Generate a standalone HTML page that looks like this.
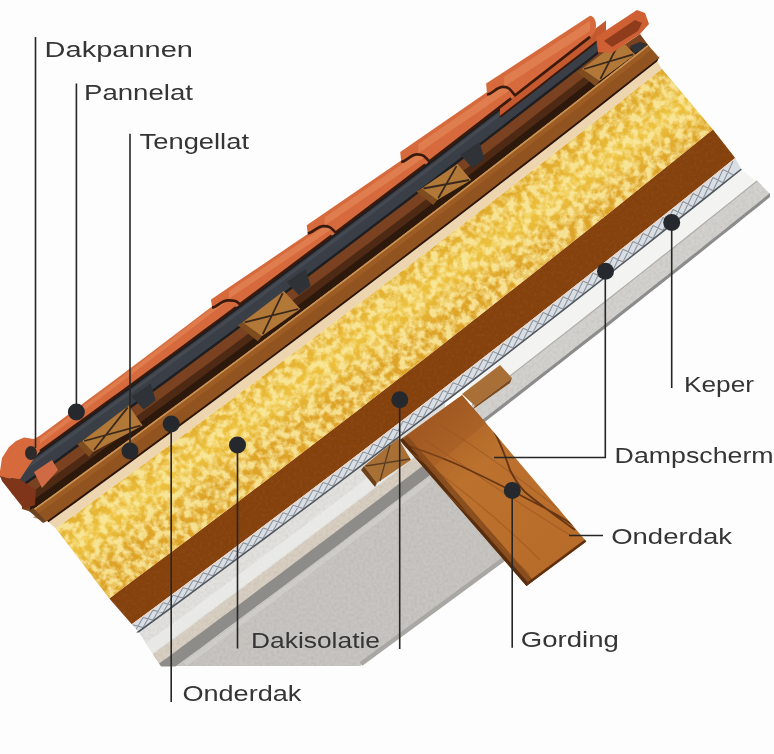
<!DOCTYPE html>
<html><head><meta charset="utf-8"><style>
html,body{margin:0;padding:0;background:#fdfdfd;}
svg{display:block;}
text{font-family:"Liberation Sans",sans-serif;font-size:22px;fill:#353535;}
.tx{will-change:transform;}
</style></head><body>
<svg width="774" height="754" viewBox="0 0 774 754">
<defs>
<filter id="speck" x="0" y="0" width="100%" height="100%" filterUnits="userSpaceOnUse">
 <feTurbulence type="fractalNoise" baseFrequency="0.13" numOctaves="3" seed="3" result="n"/>
 <feColorMatrix in="n" type="matrix" values="0 0 0 0 0  0 0 0 0 0  0 0 0 0 0  0 0 0 -3 2.0" result="a"/>
 <feComposite in="SourceGraphic" in2="a" operator="in"/>
</filter>
<filter id="grain" x="0" y="0" width="100%" height="100%" filterUnits="userSpaceOnUse">
 <feTurbulence type="fractalNoise" baseFrequency="0.35" numOctaves="1" seed="7" result="n"/>
 <feColorMatrix in="n" type="matrix" values="0 0 0 0 0  0 0 0 0 0  0 0 0 0 0  0 0 0 0.22 -0.08" result="a"/>
 <feComposite in="a" in2="SourceGraphic" operator="in" result="m"/>
 <feMerge><feMergeNode in="SourceGraphic"/><feMergeNode in="m"/></feMerge>
</filter>
<linearGradient id="yelg" gradientUnits="userSpaceOnUse" x1="330" y1="320" x2="370" y2="375">
 <stop offset="0" stop-color="#e0aa2c"/><stop offset="0.5" stop-color="#edc23e"/><stop offset="1" stop-color="#dda428"/>
</linearGradient>
<filter id="tsoft" x="0" y="0" width="774" height="754" filterUnits="userSpaceOnUse"><feGaussianBlur stdDeviation="0.01"/></filter>
<clipPath id="beamclip"><polygon points="399.7,440 462,395 586.4,541.6 526.5,586"/></clipPath>
<linearGradient id="beamg" gradientUnits="userSpaceOnUse" x1="430" y1="420" x2="560" y2="560">
 <stop offset="0" stop-color="#a65c22"/><stop offset="0.35" stop-color="#bc722e"/><stop offset="1" stop-color="#b86c2a"/>
</linearGradient>
</defs>
<rect width="774" height="754" fill="#fdfdfd"/>
<polygon points="163.5,666.0 360.0,666.0 512.0,554.0 452.0,470.0 452.0,458.2 428.2,476.5 404.3,494.8 380.5,512.9 356.6,531.1 332.8,549.1 308.9,567.1 285.1,585.0 261.2,602.9 237.4,620.7 213.5,638.4 189.7,656.1 165.8,673.7" fill="#c7c5c1" filter="url(#grain)"/>
<polyline points="185.0,664.0 209.5,645.9 234.0,627.7 258.5,609.4 283.0,591.1 307.5,572.7 332.0,554.2 356.5,535.6 381.0,517.0 405.5,498.4 430.0,479.6" fill="none" stroke="#d4d2ce" stroke-width="5" opacity="0.6"/>
<polyline points="361.0,664.0 508.0,556.0" fill="none" stroke="#a9a7a3" stroke-width="4.5"/>
<polygon points="139.0,632.4 151.8,623.0 164.5,613.6 177.2,604.2 190.0,594.8 202.8,585.4 215.5,575.9 228.2,566.5 241.0,557.0 253.8,547.4 266.5,537.9 279.2,528.4 292.0,518.8 304.8,509.2 317.5,499.6 330.2,490.0 343.0,480.4 355.8,470.7 368.5,461.0 381.2,451.3 394.0,441.6 406.8,431.9 419.5,422.2 432.2,412.4 445.0,402.6 445.0,463.6 433.4,472.5 421.7,481.4 410.1,490.3 398.5,499.2 386.8,508.1 375.2,516.9 363.6,525.8 351.9,534.6 340.3,543.4 328.7,552.2 317.0,561.0 305.4,569.7 293.8,578.5 282.2,587.2 270.5,595.9 258.9,604.6 247.3,613.3 235.6,622.0 224.0,630.6 212.4,639.3 200.7,647.9 189.1,656.5 177.5,665.1 165.8,673.7" fill="#e2e1de" filter="url(#grain)"/>
<polygon points="145.5,643.6 158.0,634.4 170.5,625.2 182.9,616.0 195.4,606.8 207.9,597.6 220.4,588.3 232.9,579.0 245.3,569.7 257.8,560.4 270.3,551.1 282.8,541.7 295.3,532.4 307.7,523.0 320.2,513.6 332.7,504.2 345.2,494.7 357.6,485.3 370.1,475.8 382.6,466.3 395.1,456.8 407.6,447.3 420.0,437.7 432.5,428.2 445.0,418.6 445.0,433.6 432.8,443.0 420.6,452.3 408.4,461.6 396.2,470.9 384.0,480.2 371.8,489.5 359.6,498.8 347.4,508.0 335.2,517.2 323.0,526.5 310.8,535.6 298.6,544.8 286.4,554.0 274.2,563.1 262.1,572.2 249.9,581.4 237.7,590.4 225.5,599.5 213.3,608.6 201.1,617.6 188.9,626.7 176.7,635.7 164.5,644.7 152.3,653.6" fill="#ebebe9" opacity="0.8"/>
<polygon points="152.7,654.3 164.9,645.3 177.1,636.4 189.3,627.4 201.4,618.3 213.6,609.3 225.8,600.3 238.0,591.2 250.2,582.1 262.3,573.0 274.5,563.9 286.7,554.8 298.9,545.6 311.0,536.5 323.2,527.3 335.4,518.1 347.6,508.9 359.8,499.7 371.9,490.4 384.1,481.2 396.3,471.9 408.5,462.6 420.6,453.3 432.8,444.0 445.0,434.6 445.0,449.1 433.1,458.2 421.2,467.4 409.3,476.5 397.4,485.6 385.5,494.6 373.6,503.7 361.7,512.7 349.8,521.7 337.9,530.8 326.0,539.7 314.0,548.7 302.1,557.7 290.2,566.6 278.3,575.6 266.4,584.5 254.5,593.4 242.6,602.3 230.7,611.1 218.8,620.0 206.9,628.8 195.0,637.6 183.1,646.4 171.2,655.2 159.3,664.0" fill="#d8cfc2" filter="url(#grain)"/>
<polygon points="159.1,663.6 171.0,654.9 182.9,646.1 194.8,637.3 206.7,628.4 218.6,619.6 230.5,610.7 242.5,601.9 254.4,593.0 266.3,584.1 278.2,575.2 290.1,566.2 302.0,557.3 313.9,548.3 325.9,539.3 337.8,530.3 349.7,521.3 361.6,512.3 373.5,503.2 385.4,494.2 397.3,485.1 409.3,476.0 421.2,466.9 433.1,457.8 445.0,448.6 445.0,463.6 433.4,472.5 421.7,481.4 410.1,490.3 398.5,499.2 386.8,508.1 375.2,516.9 363.6,525.8 351.9,534.6 340.3,543.4 328.7,552.2 317.0,561.0 305.4,569.7 293.8,578.5 282.2,587.2 270.5,595.9 258.9,604.6 247.3,613.3 235.6,622.0 224.0,630.6 212.4,639.3 200.7,647.9 189.1,656.5 177.5,665.1 165.8,673.7" fill="#8e8c89"/>
<rect x="120" y="666.5" width="245" height="14" fill="#fdfdfd"/>
<polygon points="470.0,383.4 481.3,374.6 492.6,365.9 504.0,357.1 515.3,348.3 526.6,339.6 537.9,330.8 549.2,321.9 560.6,313.1 571.9,304.2 583.2,295.4 594.5,286.5 605.9,277.6 617.2,268.7 628.5,259.8 639.8,250.9 651.1,241.9 662.5,232.9 673.8,224.0 685.1,215.0 696.4,206.0 707.7,196.9 719.1,187.9 730.4,178.9 741.7,169.8 757.0,181.5 745.1,191.1 733.2,200.6 721.4,210.1 709.5,219.5 697.6,229.0 685.8,238.5 673.9,247.9 662.0,257.3 650.1,266.7 638.2,276.1 626.4,285.5 614.5,294.8 602.6,304.2 590.8,313.5 578.9,322.8 567.0,332.1 555.1,341.3 543.2,350.6 531.4,359.8 519.5,369.1 507.6,378.3 495.8,387.5 483.9,396.7 472.0,405.8" fill="#f3f3f2"/>
<polygon points="472.0,404.8 483.9,395.7 495.8,386.5 507.6,377.3 519.5,368.1 531.4,358.8 543.2,349.6 555.1,340.3 567.0,331.1 578.9,321.8 590.8,312.5 602.6,303.2 614.5,293.8 626.4,284.5 638.2,275.1 650.1,265.7 662.0,256.3 673.9,246.9 685.8,237.5 697.6,228.0 709.5,218.5 721.4,209.1 733.2,199.6 745.1,190.1 757.0,180.5 770.0,194.1 757.8,203.9 745.5,213.8 733.2,223.6 721.0,233.4 708.8,243.1 696.5,252.9 684.2,262.6 672.0,272.4 659.8,282.1 647.5,291.8 635.2,301.5 623.0,311.1 610.8,320.8 598.5,330.4 586.2,340.0 574.0,349.6 561.8,359.2 549.5,368.7 537.2,378.3 525.0,387.8 512.8,397.3 500.5,406.8 488.2,416.3 476.0,425.7" fill="#d3d1cd" filter="url(#grain)"/>
<polygon points="476.0,424.7 488.2,415.3 500.5,405.8 512.8,396.3 525.0,386.8 537.2,377.3 549.5,367.7 561.8,358.2 574.0,348.6 586.2,339.0 598.5,329.4 610.8,319.8 623.0,310.1 635.2,300.5 647.5,290.8 659.8,281.1 672.0,271.4 684.2,261.6 696.5,251.9 708.8,242.1 721.0,232.4 733.2,222.6 745.5,212.8 757.8,202.9 770.0,193.1 770.0,197.1 757.8,206.9 745.7,216.6 733.5,226.4 721.3,236.1 709.2,245.8 697.0,255.5 684.8,265.2 672.7,274.8 660.5,284.5 648.3,294.1 636.2,303.7 624.0,313.3 611.8,322.9 599.7,332.5 587.5,342.0 575.3,351.6 563.2,361.1 551.0,370.6 538.8,380.0 526.7,389.5 514.5,399.0 502.3,408.4 490.2,417.8 478.0,427.2" fill="#8c8c8c"/>
<polyline points="472.0,405.3 495.8,387.0 519.5,368.6 543.2,350.1 567.0,331.6 590.8,313.0 614.5,294.3 638.2,275.6 662.0,256.8 685.8,238.0 709.5,219.0 733.2,200.1 757.0,181.0" fill="none" stroke="#b0aeaa" stroke-width="1.2"/>
<polygon points="364.0,466.0 398.0,438.0 411.0,460.0 377.0,483.0" fill="#a87034"/>
<polygon points="364.0,466.0 377.0,483.0 375.0,487.0 361.0,470.0" fill="#6e4018"/>
<path d="M366,466 L410,459 M390,445 L380,481" stroke="#4a3020" stroke-width="1.3" opacity="0.8"/>
<polygon points="462.0,394.0 500.0,365.0 512.0,378.0 475.0,406.0" fill="#a87036"/>
<polygon points="475.0,406.0 512.0,378.0 510.0,383.0 472.0,410.0" fill="#7e4a1e"/>
<polygon points="399.7,440.0 462.0,395.0 586.4,541.6 526.5,586.0" fill="url(#beamg)"/>
<g clip-path="url(#beamclip)">
<path d="M402,440 L529,586" stroke="#5a2e10" stroke-width="14" opacity="0.5"/>
<path d="M400,440 L527,586" stroke="#4a260c" stroke-width="6" opacity="0.8"/>
<path d="M410,452 C450,480 500,520 540,560 M425,440 C470,470 520,505 570,535 M440,425 C490,455 540,495 580,525 M420,470 C460,505 500,545 530,575 M470,405 C500,440 540,480 585,520" fill="none" stroke="#9a5520" stroke-width="1.2" opacity="0.6"/>
<path d="M401,444 C440,455 470,470 500,485 C530,500 560,515 580,530 M473,400 C490,420 500,440 510,470 C515,480 520,487 525,492 C540,505 555,515 575,530" fill="none" stroke="#5e3012" stroke-width="1.8" opacity="0.9"/>
<path d="M526.5,586 L586.4,541.6" stroke="#5e300f" stroke-width="5"/>
<polygon points="403.0,438.0 462.0,395.0 486.0,423.0 432.0,468.0" fill="#9a5522" opacity="0.35"/>
</g>
<polygon points="109.3,598.4 134.4,579.6 159.6,560.8 184.8,542.0 209.9,523.0 235.1,504.0 260.2,484.9 285.3,465.8 310.5,446.6 335.7,427.3 360.8,407.9 386.0,388.5 411.1,369.0 436.2,349.4 461.4,329.7 486.6,310.0 511.7,290.2 536.9,270.4 562.0,250.4 587.1,230.4 612.3,210.4 637.4,190.2 662.6,170.0 687.8,149.7 712.9,129.4 735.2,158.0 710.1,178.3 684.9,198.4 659.8,218.5 634.6,238.6 609.5,258.5 584.4,278.4 559.2,298.2 534.1,318.0 508.9,337.7 483.8,357.3 458.6,376.8 433.5,396.3 408.4,415.7 383.2,435.0 358.1,454.2 332.9,473.4 307.8,492.5 282.7,511.6 257.5,530.5 232.4,549.4 207.2,568.3 182.1,587.0 156.9,605.7 131.8,624.3" fill="#884417" filter="url(#grain)"/>
<polygon points="131.8,624.3 156.9,605.7 182.1,587.0 207.2,568.3 232.4,549.4 257.5,530.5 282.7,511.6 307.8,492.5 332.9,473.4 358.1,454.2 383.2,435.0 408.4,415.7 433.5,396.3 458.6,376.8 483.8,357.3 508.9,337.7 534.1,318.0 559.2,298.2 584.4,278.4 609.5,258.5 634.6,238.6 659.8,218.5 684.9,198.4 710.1,178.3 735.2,158.0 741.7,169.8 716.6,189.9 691.5,209.9 666.4,229.8 641.2,249.7 616.1,269.5 591.0,289.3 565.9,308.9 540.8,328.5 515.7,348.0 490.6,367.5 465.5,386.9 440.4,406.2 415.2,425.4 390.1,444.6 365.0,463.7 339.9,482.7 314.8,501.7 289.7,520.6 264.6,539.4 239.5,558.1 214.3,576.8 189.2,595.4 164.1,613.9 139.0,632.4" fill="#d9dee5"/>
<polygon points="131.8,624.3 156.9,605.7 182.1,587.0 207.2,568.3 232.4,549.4 257.5,530.5 282.7,511.6 307.8,492.5 332.9,473.4 358.1,454.2 383.2,435.0 408.4,415.7 433.5,396.3 458.6,376.8 483.8,357.3 508.9,337.7 534.1,318.0 559.2,298.2 584.4,278.4 609.5,258.5 634.6,238.6 659.8,218.5 684.9,198.4 710.1,178.3 735.2,158.0 735.8,158.8 710.7,179.1 685.5,199.2 660.4,219.3 635.2,239.4 610.1,259.3 585.0,279.2 559.8,299.0 534.7,318.8 509.6,338.5 484.4,358.1 459.3,377.6 434.1,397.1 409.0,416.5 383.9,435.8 358.7,455.0 333.6,474.2 308.5,493.3 283.3,512.3 258.2,531.3 233.0,550.2 207.9,569.0 182.8,587.8 157.6,606.5 132.5,625.1" fill="#ecd6c4"/>
<clipPath id="zzclip"><polygon points="131.8,624.3 156.9,605.7 182.1,587.0 207.2,568.3 232.4,549.4 257.5,530.5 282.7,511.6 307.8,492.5 332.9,473.4 358.1,454.2 383.2,435.0 408.4,415.7 433.5,396.3 458.6,376.8 483.8,357.3 508.9,337.7 534.1,318.0 559.2,298.2 584.4,278.4 609.5,258.5 634.6,238.6 659.8,218.5 684.9,198.4 710.1,178.3 735.2,158.0 741.7,169.8 716.6,189.9 691.5,209.9 666.4,229.8 641.2,249.7 616.1,269.5 591.0,289.3 565.9,308.9 540.8,328.5 515.7,348.0 490.6,367.5 465.5,386.9 440.4,406.2 415.2,425.4 390.1,444.6 365.0,463.7 339.9,482.7 314.8,501.7 289.7,520.6 264.6,539.4 239.5,558.1 214.3,576.8 189.2,595.4 164.1,613.9 139.0,632.4"/></clipPath>
<path d="M133.0,624.9 L143.0,627.5 M133.0,634.8 L143.0,617.5 M143.0,617.5 L153.0,620.1 M143.0,627.5 L153.0,610.1 M153.0,610.1 L163.0,612.7 M153.0,620.1 L163.0,602.7 M163.0,602.7 L173.0,605.4 M163.0,612.7 L173.0,595.3 M173.0,595.3 L183.0,598.0 M173.0,605.4 L183.0,587.8 M183.0,587.8 L193.0,590.6 M183.0,598.0 L193.0,580.4 M193.0,580.4 L203.0,583.2 M193.0,590.6 L203.0,572.9 M203.0,572.9 L213.0,575.8 M203.0,583.2 L213.0,565.4 M213.0,565.4 L223.0,568.4 M213.0,575.8 L223.0,557.9 M223.0,557.9 L233.0,560.9 M223.0,568.4 L233.0,550.4 M233.0,550.4 L243.0,553.5 M233.0,560.9 L243.0,542.9 M243.0,542.9 L253.0,546.0 M243.0,553.5 L253.0,535.4 M253.0,535.4 L263.0,538.5 M253.0,546.0 L263.0,527.9 M263.0,527.9 L273.0,531.1 M263.0,538.5 L273.0,520.3 M273.0,520.3 L283.0,523.6 M273.0,531.1 L283.0,512.8 M283.0,512.8 L293.0,516.1 M283.0,523.6 L293.0,505.2 M293.0,505.2 L303.0,508.5 M293.0,516.1 L303.0,497.7 M303.0,497.7 L313.0,501.0 M303.0,508.5 L313.0,490.1 M313.0,490.1 L323.0,493.5 M313.0,501.0 L323.0,482.5 M323.0,482.5 L333.0,485.9 M323.0,493.5 L333.0,474.9 M333.0,474.9 L343.0,478.4 M333.0,485.9 L343.0,467.2 M343.0,467.2 L353.0,470.8 M343.0,478.4 L353.0,459.6 M353.0,459.6 L363.0,463.2 M353.0,470.8 L363.0,452.0 M363.0,452.0 L373.0,455.6 M363.0,463.2 L373.0,444.3 M373.0,444.3 L383.0,448.0 M373.0,455.6 L383.0,436.6 M383.0,436.6 L393.0,440.4 M383.0,448.0 L393.0,429.0 M393.0,429.0 L403.0,432.8 M393.0,440.4 L403.0,421.3 M403.0,421.3 L413.0,425.1 M403.0,432.8 L413.0,413.6 M413.0,413.6 L423.0,417.5 M413.0,425.1 L423.0,405.9 M423.0,405.9 L433.0,409.8 M423.0,417.5 L433.0,398.1 M433.0,398.1 L443.0,402.1 M433.0,409.8 L443.0,390.4 M443.0,390.4 L453.0,394.5 M443.0,402.1 L453.0,382.7 M453.0,382.7 L463.0,386.8 M453.0,394.5 L463.0,374.9 M463.0,374.9 L473.0,379.1 M463.0,386.8 L473.0,367.1 M473.0,367.1 L483.0,371.3 M473.0,379.1 L483.0,359.4 M483.0,359.4 L493.0,363.6 M483.0,371.3 L493.0,351.6 M493.0,351.6 L503.0,355.9 M493.0,363.6 L503.0,343.8 M503.0,343.8 L513.0,348.1 M503.0,355.9 L513.0,336.0 M513.0,336.0 L523.0,340.4 M513.0,348.1 L523.0,328.2 M523.0,328.2 L533.0,332.6 M523.0,340.4 L533.0,320.3 M533.0,320.3 L543.0,324.8 M533.0,332.6 L543.0,312.5 M543.0,312.5 L553.0,317.0 M543.0,324.8 L553.0,304.6 M553.0,304.6 L563.0,309.2 M553.0,317.0 L563.0,296.7 M563.0,296.7 L573.0,301.4 M563.0,309.2 L573.0,288.9 M573.0,288.9 L583.0,293.5 M573.0,301.4 L583.0,281.0 M583.0,281.0 L593.0,285.7 M583.0,293.5 L593.0,273.1 M593.0,273.1 L603.0,277.9 M593.0,285.7 L603.0,265.2 M603.0,265.2 L613.0,270.0 M603.0,277.9 L613.0,257.2 M613.0,257.2 L623.0,262.1 M613.0,270.0 L623.0,249.3 M623.0,249.3 L633.0,254.2 M623.0,262.1 L633.0,241.4 M633.0,241.4 L643.0,246.3 M633.0,254.2 L643.0,233.4 M643.0,233.4 L653.0,238.4 M643.0,246.3 L653.0,225.4 M653.0,225.4 L663.0,230.5 M653.0,238.4 L663.0,217.5 M663.0,217.5 L673.0,222.6 M663.0,230.5 L673.0,209.5 M673.0,209.5 L683.0,214.6 M673.0,222.6 L683.0,201.5 M683.0,201.5 L693.0,206.7 M683.0,214.6 L693.0,193.5 M693.0,193.5 L703.0,198.7 M693.0,206.7 L703.0,185.4 M703.0,185.4 L713.0,190.7 M703.0,198.7 L713.0,177.4 M713.0,177.4 L723.0,182.8 M713.0,190.7 L723.0,169.4 M723.0,169.4 L733.0,174.8 M723.0,182.8 L733.0,161.3" stroke="#8e949c" stroke-width="1.1" fill="none" clip-path="url(#zzclip)"/>
<polygon points="136.0,632.6 161.2,614.1 186.4,595.5 211.6,576.8 236.8,558.1 262.0,539.3 287.2,520.4 312.5,501.4 337.7,482.4 362.9,463.3 388.1,444.1 413.3,424.9 438.5,405.6 463.7,386.2 488.9,366.8 514.1,347.2 539.3,327.7 564.5,308.0 589.8,288.3 615.0,268.5 640.2,248.6 665.4,228.6 690.6,208.6 715.8,188.5 741.0,168.4 741.7,169.8 716.6,189.9 691.5,209.9 666.4,229.8 641.2,249.7 616.1,269.5 591.0,289.3 565.9,308.9 540.8,328.5 515.7,348.0 490.6,367.5 465.5,386.9 440.4,406.2 415.2,425.4 390.1,444.6 365.0,463.7 339.9,482.7 314.8,501.7 289.7,520.6 264.6,539.4 239.5,558.1 214.3,576.8 189.2,595.4 164.1,613.9 139.0,632.4" fill="#52575d"/>
<polygon points="55.7,528.3 81.0,510.0 106.2,491.6 131.5,473.1 156.7,454.6 182.0,436.0 207.2,417.3 232.5,398.6 257.7,379.7 283.0,360.8 308.2,341.9 333.5,322.8 358.7,303.7 384.0,284.5 409.3,265.3 434.5,246.0 459.8,226.6 485.0,207.1 510.3,187.6 535.5,168.0 560.8,148.3 586.0,128.5 611.3,108.7 636.5,88.8 661.8,68.8 712.9,129.4 687.8,149.7 662.6,170.0 637.4,190.2 612.3,210.4 587.1,230.4 562.0,250.4 536.9,270.4 511.7,290.2 486.5,310.0 461.4,329.7 436.2,349.4 411.1,369.0 385.9,388.5 360.8,407.9 335.6,427.3 310.5,446.6 285.3,465.8 260.2,484.9 235.1,504.0 209.9,523.0 184.8,542.0 159.6,560.8 134.4,579.6 109.3,598.4" fill="url(#yelg)"/>
<polygon points="55.7,528.3 81.0,510.0 106.2,491.6 131.5,473.1 156.7,454.6 182.0,436.0 207.2,417.3 232.5,398.6 257.7,379.7 283.0,360.8 308.2,341.9 333.5,322.8 358.7,303.7 384.0,284.5 409.3,265.3 434.5,246.0 459.8,226.6 485.0,207.1 510.3,187.6 535.5,168.0 560.8,148.3 586.0,128.5 611.3,108.7 636.5,88.8 661.8,68.8 712.9,129.4 687.8,149.7 662.6,170.0 637.4,190.2 612.3,210.4 587.1,230.4 562.0,250.4 536.9,270.4 511.7,290.2 486.5,310.0 461.4,329.7 436.2,349.4 411.1,369.0 385.9,388.5 360.8,407.9 335.6,427.3 310.5,446.6 285.3,465.8 260.2,484.9 235.1,504.0 209.9,523.0 184.8,542.0 159.6,560.8 134.4,579.6 109.3,598.4" fill="#fbeca6" filter="url(#speck)" opacity="0.85"/>
<polygon points="48.5,522.2 73.9,503.9 99.2,485.4 124.6,466.9 149.9,448.3 175.3,429.7 200.7,411.0 226.0,392.2 251.4,373.3 276.8,354.3 302.1,335.3 327.5,316.2 352.9,297.1 378.2,277.8 403.6,258.5 428.9,239.2 454.3,219.7 479.7,200.2 505.0,180.6 530.4,160.9 555.8,141.2 581.1,121.4 606.5,101.5 631.8,81.6 657.2,61.5 661.8,68.8 636.5,88.8 611.3,108.7 586.0,128.5 560.8,148.3 535.5,168.0 510.3,187.6 485.0,207.1 459.8,226.6 434.5,246.0 409.3,265.3 384.0,284.5 358.8,303.7 333.5,322.8 308.2,341.9 283.0,360.8 257.7,379.7 232.5,398.6 207.2,417.3 182.0,436.0 156.7,454.6 131.5,473.1 106.2,491.6 81.0,510.0 55.7,528.3" fill="#edd5b0"/>
<polygon points="46.5,520.2 72.0,501.7 97.6,483.1 123.1,464.5 148.7,445.8 174.2,427.0 199.8,408.1 225.3,389.2 250.8,370.2 276.4,351.1 301.9,332.0 327.5,312.8 353.0,293.5 378.5,274.1 404.1,254.7 429.6,235.1 455.2,215.5 480.7,195.9 506.2,176.2 531.8,156.3 557.3,136.5 582.9,116.5 608.4,96.5 634.0,76.4 659.5,56.2 657.2,61.5 631.8,81.6 606.5,101.5 581.1,121.4 555.8,141.2 530.4,160.9 505.0,180.6 479.7,200.2 454.3,219.7 428.9,239.2 403.6,258.5 378.2,277.8 352.9,297.1 327.5,316.2 302.1,335.3 276.8,354.3 251.4,373.3 226.0,392.2 200.7,411.0 175.3,429.7 150.0,448.3 124.6,466.9 99.2,485.4 73.9,503.9 48.5,522.2" fill="#2e1606"/>
<polygon points="20.0,463.3 39.3,449.4 58.7,435.4 78.0,421.4 97.3,407.3 116.7,393.2 136.0,379.1 155.3,364.9 174.7,350.7 194.0,336.4 213.3,322.1 232.7,307.7 252.0,293.3 271.3,278.9 290.7,264.4 310.0,249.9 329.3,235.3 348.7,220.7 368.0,206.1 387.3,191.4 406.7,176.7 426.0,161.9 445.3,147.1 464.7,132.2 484.0,117.3 503.3,102.4 522.7,87.4 542.0,72.4 561.3,57.3 580.7,42.2 600.0,27.1 612.0,53.0 640.0,34.0 648.0,44.8 648.0,44.8 622.2,65.1 596.5,85.3 570.8,105.5 545.0,125.6 519.2,145.6 493.5,165.5 467.8,185.4 442.0,205.2 416.2,224.9 390.5,244.5 364.8,264.1 339.0,283.5 313.2,303.0 287.5,322.3 261.8,341.6 236.0,360.7 210.2,379.9 184.5,398.9 158.8,417.9 133.0,436.8 107.2,455.6 81.5,474.3 55.8,493.0 30.0,511.6 22.0,509.0" fill="#7a4220"/>
<polygon points="30.0,493.6 54.6,475.8 79.2,458.0 103.8,440.1 128.3,422.2 152.9,404.2 177.5,386.1 202.1,367.9 226.7,349.7 251.2,331.4 275.8,313.0 300.4,294.6 325.0,276.1 349.6,257.5 374.2,238.9 398.8,220.2 423.3,201.5 447.9,182.6 472.5,163.7 497.1,144.7 521.7,125.7 546.2,106.6 570.8,87.4 595.4,68.2 620.0,48.9 648.0,44.8 622.2,65.1 596.5,85.3 570.8,105.5 545.0,125.6 519.2,145.6 493.5,165.5 467.8,185.4 442.0,205.2 416.2,224.9 390.5,244.5 364.8,264.1 339.0,283.5 313.2,303.0 287.5,322.3 261.8,341.6 236.0,360.7 210.2,379.9 184.5,398.9 158.8,417.9 133.0,436.8 107.2,455.6 81.5,474.3 55.8,493.0 30.0,511.6" fill="#2a160a" opacity="0.55"/>
<polygon points="30.0,502.6 55.4,484.2 80.8,465.8 106.2,447.3 131.7,428.7 157.1,410.1 182.5,391.4 207.9,372.6 233.3,353.7 258.8,334.8 284.2,315.8 309.6,296.7 335.0,277.6 360.4,258.3 385.8,239.0 411.2,219.7 436.7,200.2 462.1,180.7 487.5,161.1 512.9,141.5 538.3,121.8 563.8,102.0 589.2,82.1 614.6,62.1 640.0,42.1 648.0,44.8 622.2,65.1 596.5,85.3 570.8,105.5 545.0,125.6 519.2,145.6 493.5,165.5 467.8,185.4 442.0,205.2 416.2,224.9 390.5,244.5 364.8,264.1 339.0,283.5 313.2,303.0 287.5,322.3 261.8,341.6 236.0,360.7 210.2,379.9 184.5,398.9 158.8,417.9 133.0,436.8 107.2,455.6 81.5,474.3 55.8,493.0 30.0,511.6" fill="#1e120a" opacity="0.7"/>
<polygon points="10.0,470.5 29.6,456.4 49.2,442.2 68.8,428.0 88.4,413.8 108.0,399.5 127.6,385.2 147.2,370.9 166.8,356.4 186.4,342.0 206.0,327.5 225.6,313.0 245.2,298.4 264.8,283.8 284.4,269.1 304.0,254.4 323.6,239.7 343.2,224.9 362.8,210.0 382.4,195.2 402.0,180.2 421.6,165.3 441.2,150.3 460.8,135.2 480.4,120.1 500.0,105.0 519.6,89.8 539.2,74.6 558.8,59.3 578.4,44.0 598.0,28.7 598.0,54.2 578.5,69.5 558.9,84.7 539.4,99.9 519.9,115.1 500.3,130.2 480.8,145.3 461.3,160.4 441.7,175.4 422.2,190.3 402.7,205.2 383.1,220.1 363.6,234.9 344.1,249.7 324.5,264.5 305.0,279.2 285.5,293.8 265.9,308.4 246.4,323.0 226.9,337.5 207.3,352.0 187.8,366.5 168.3,380.9 148.7,395.2 129.2,409.5 109.7,423.8 90.1,438.0 70.6,452.2 51.1,466.4 31.5,480.5 12.0,494.5" fill="#1d1e21"/>
<polygon points="14.0,473.1 33.5,459.1 52.9,445.0 72.4,430.9 91.9,416.8 111.3,402.6 130.8,388.4 150.3,374.1 169.7,359.8 189.2,345.4 208.7,331.0 228.1,316.6 247.6,302.1 267.1,287.6 286.5,273.0 306.0,258.4 325.5,243.8 344.9,229.1 364.4,214.3 383.9,199.5 403.3,184.7 422.8,169.9 442.3,155.0 461.7,140.0 481.2,125.0 500.7,110.0 520.1,94.9 539.6,79.8 559.1,64.6 578.5,49.4 598.0,34.2 598.0,51.2 578.6,66.4 559.2,81.5 539.8,96.6 520.4,111.7 501.0,126.7 481.6,141.7 462.2,156.6 442.8,171.5 423.4,186.4 404.0,201.2 384.6,216.0 365.2,230.7 345.8,245.4 326.4,260.1 307.0,274.7 287.6,289.2 268.2,303.7 248.8,318.2 229.4,332.7 210.0,347.0 190.6,361.4 171.2,375.7 151.8,390.0 132.4,404.2 113.0,418.4 93.6,432.5 74.2,446.6 54.8,460.7 35.4,474.7 16.0,488.7" fill="#3a3e46"/>
<polygon points="630.0,46.0 640.0,42.0 647.0,45.0 645.0,50.0 634.0,53.0" fill="#2f3237"/>
<polyline points="20.0,472.3 39.3,458.4 58.5,444.5 77.8,430.5 97.1,416.5 116.3,402.5 135.6,388.4 154.9,374.2 174.1,360.0 193.4,345.8 212.7,331.6 231.9,317.3 251.2,302.9 270.5,288.5 289.7,274.1 309.0,259.7 328.3,245.1 347.5,230.6 366.8,216.0 386.1,201.4 405.3,186.7 424.6,172.0 443.9,157.2 463.1,142.4 482.4,127.6 501.7,112.7 520.9,97.8 540.2,82.8 559.5,67.8 578.7,52.8 598.0,37.7" fill="none" stroke="#4a4e56" stroke-width="3" opacity="0.7"/>
<polygon points="82.2,441.0 93.0,452.0 89.0,457.0 77.2,444.0" fill="#7e4c1e"/>
<polygon points="128.7,405.4 142.6,425.6 93.0,452.0 82.2,441.0" fill="#b27838"/>
<path d="M127.7,407.4 L94.0,450.0 M84.2,441.0 L140.6,425.6" stroke="#3b2a1c" stroke-width="1.8"/>
<polygon points="131.7,396.4 150.7,383.4 155.7,400.4 143.7,409.4" fill="#2f3237"/>
<polygon points="242.6,322.3 261.8,336.2 257.8,341.2 237.6,325.3" fill="#7e4c1e"/>
<polygon points="283.7,291.1 300.3,309.0 261.8,336.2 242.6,322.3" fill="#b27838"/>
<path d="M282.7,293.1 L262.8,334.2 M244.6,322.3 L298.3,309.0" stroke="#3b2a1c" stroke-width="1.8"/>
<polygon points="286.7,282.1 305.7,269.1 310.7,286.1 298.7,295.1" fill="#2f3237"/>
<polygon points="421.4,188.5 437.3,200.0 433.3,205.0 416.4,191.5" fill="#7e4c1e"/>
<polygon points="457.5,164.1 471.2,180.0 437.3,200.0 421.4,188.5" fill="#b27838"/>
<path d="M456.5,166.1 L438.3,198.0 M423.4,188.5 L469.2,180.0" stroke="#3b2a1c" stroke-width="1.8"/>
<polygon points="460.5,155.1 479.5,142.1 484.5,159.1 472.5,168.1" fill="#2f3237"/>
<polygon points="582.1,69.0 599.4,80.9 595.4,85.9 577.1,72.0" fill="#7e4c1e"/>
<polygon points="620.6,39.8 635.2,54.4 599.4,80.9 582.1,69.0" fill="#b27838"/>
<path d="M619.6,41.8 L600.4,78.9 M584.1,69.0 L633.2,54.4" stroke="#3b2a1c" stroke-width="1.8"/>
<polygon points="33.0,509.4 58.6,490.9 84.2,472.3 109.9,453.7 135.5,434.9 161.1,416.1 186.8,397.2 212.4,378.3 238.0,359.3 263.6,340.2 289.2,321.0 314.9,301.7 340.5,282.4 366.1,263.0 391.8,243.5 417.4,224.0 443.0,204.4 468.6,184.7 494.2,164.9 519.9,145.1 545.5,125.2 571.1,105.2 596.8,85.1 622.4,65.0 648.0,44.8 659.3,58.5 659.3,57.4 633.8,77.5 608.2,97.6 582.7,117.7 557.2,137.6 531.6,157.5 506.1,177.3 480.6,197.0 455.0,216.7 429.5,236.2 404.0,255.7 378.4,275.2 352.9,294.5 327.4,313.8 301.8,333.0 276.3,352.2 250.8,371.3 225.2,390.3 199.7,409.2 174.2,428.0 148.6,446.8 123.1,465.5 97.6,484.1 72.0,502.7 46.5,521.2" fill="#9c5c24"/>
<polygon points="33.0,517.4 58.8,498.8 84.6,480.1 110.4,461.3 136.2,442.4 162.0,423.5 187.8,404.5 213.5,385.4 239.3,366.3 265.1,347.0 290.9,327.7 316.7,308.4 342.5,288.9 368.3,269.4 394.1,249.8 419.9,230.1 445.7,210.3 471.5,190.5 497.2,170.6 523.0,150.6 548.8,130.6 574.6,110.5 600.4,90.3 626.2,70.0 652.0,49.6 659.3,57.4 633.8,77.5 608.2,97.6 582.7,117.7 557.2,137.6 531.6,157.5 506.1,177.3 480.6,197.0 455.0,216.7 429.5,236.2 404.0,255.7 378.4,275.2 352.9,294.5 327.4,313.8 301.8,333.0 276.3,352.2 250.8,371.3 225.2,390.3 199.7,409.2 174.2,428.0 148.6,446.8 123.1,465.5 97.6,484.1 72.0,502.7 46.5,521.2" fill="#8a4c1c" opacity="0.6"/>
<polygon points="33.0,509.4 58.6,490.9 84.2,472.3 109.9,453.7 135.5,434.9 161.1,416.1 186.8,397.2 212.4,378.3 238.0,359.3 263.6,340.2 289.2,321.0 314.9,301.7 340.5,282.4 366.1,263.0 391.8,243.5 417.4,224.0 443.0,204.4 468.6,184.7 494.2,164.9 519.9,145.1 545.5,125.2 571.1,105.2 596.8,85.1 622.4,65.0 648.0,44.8 648.0,46.8 622.4,67.0 596.8,87.1 571.1,107.2 545.5,127.2 519.9,147.1 494.2,166.9 468.6,186.7 443.0,206.4 417.4,226.0 391.8,245.5 366.1,265.0 340.5,284.4 314.9,303.7 289.2,323.0 263.6,342.2 238.0,361.3 212.4,380.3 186.8,399.2 161.1,418.1 135.5,436.9 109.9,455.7 84.2,474.3 58.6,492.9 33.0,511.4" fill="#c99252"/>
<polygon points="33.0,508.0 46.5,521.2 43.0,523.0 29.0,511.0" fill="#6b4220"/>
<polygon points="500.0,103.0 513.2,92.7 526.5,82.5 539.8,72.2 553.0,61.8 566.2,51.5 579.5,41.2 592.8,30.8 606.0,20.4 606.0,26.4 606.0,34.4 592.8,44.8 579.5,55.2 566.2,65.5 553.0,75.8 539.8,86.2 526.5,96.5 513.2,106.7 500.0,117.0" fill="#c4582e"/>
<polyline points="500.0,117.0 513.2,106.7 526.5,96.5 539.8,86.2 553.0,75.8 566.2,65.5 579.5,55.2 592.8,44.8 606.0,34.4" fill="none" stroke="#3a1a0c" stroke-width="2"/>
<polygon points="596.0,37.0 636.9,10.0 645.0,13.0 649.0,24.0 640.0,34.0 612.0,53.0 598.0,52.0" fill="#cf6033"/>
<polygon points="604.0,41.0 635.0,20.0 642.0,23.0 638.0,31.0 612.0,47.0" fill="#8e3c1c"/>
<polygon points="0.0,471.0 2.0,458.0 9.0,447.0 16.0,441.0 24.0,437.5 34.0,439.1 40.0,435.6 56.3,423.5 72.7,411.3 89.0,399.1 105.3,386.9 121.7,374.7 138.0,362.4 154.3,350.2 170.7,337.8 187.0,325.5 203.3,313.1 219.7,300.7 236.0,288.3 242.0,294.3 242.0,303.2 236.0,307.2 236.0,307.2 216.4,321.8 196.8,336.3 177.2,350.8 157.6,365.2 138.0,379.6 118.4,393.9 98.8,408.2 79.2,422.5 59.6,436.7 40.0,450.9 30.0,464.1 20.0,479.3 8.0,478.0 0.0,477.0" fill="#d66a3d"/>
<polygon points="40.0,438.6 56.3,426.3 72.7,414.0 89.0,401.6 105.3,389.3 121.7,376.9 138.0,364.4 154.3,352.0 170.7,339.5 187.0,327.0 203.3,314.4 219.7,301.9 236.0,289.3 236.0,294.3 219.7,306.9 203.3,319.4 187.0,332.0 170.7,344.5 154.3,357.0 138.0,369.4 121.7,381.9 105.3,394.3 89.0,406.6 72.7,419.0 56.3,431.3 40.0,443.6" fill="#e38656" opacity="0.65"/>
<path d="M40.0,450.9 L56.3,439.1 L72.7,427.2 L89.0,415.4 L105.3,403.5 L121.7,391.6 L138.0,379.6 L154.3,367.6 L170.7,355.6 L187.0,343.6 L203.3,331.5 L219.7,319.4 L236.0,307.2" fill="none" stroke="#3a1a0c" stroke-width="2.4"/>
<polygon points="0.0,476.0 8.0,478.0 20.0,479.3 36.0,490.0 35.0,505.0 24.0,509.0 2.0,481.0" fill="#7e3519"/>
<ellipse cx="31" cy="453" rx="6" ry="7" fill="#2f2a2a"/>
<polygon points="34.0,472.0 52.0,460.0 58.0,470.0 42.0,488.0" fill="#d06a44"/>
<path d="M211.0,299.5 L331.7,217.8 C339.7,218.8 339.7,232.6 331.7,235.6 L240.0,304.3 C236.0,300.3 235.0,300.4 228.0,300.4 C221.0,300.4 217.0,307.5 212.0,307.5 L211.0,299.5 Z" fill="#d66a3d"/><polygon points="229.0,291.1 254.7,273.7 280.4,256.3 306.0,238.9 331.7,221.5 331.7,229.0 306.0,246.4 280.4,263.8 254.7,281.2 229.0,298.6" fill="#e38656" opacity="0.7"/><path d="M212.0,307.5 C217.0,307.5 221.0,300.4 228.0,300.4 C235.0,300.4 236.0,300.3 240.0,304.3 L331.7,235.6" fill="none" stroke="#3a1a0c" stroke-width="2.6"/>
<path d="M306.7,225.3 L425.2,144.0 C433.2,145.0 433.2,161.5 425.2,164.5 L335.7,232.5 C331.7,228.5 330.7,226.1 323.7,226.1 C316.7,226.1 312.7,233.3 307.7,233.3 L306.7,225.3 Z" fill="#d66a3d"/><polygon points="324.7,217.2 349.8,199.9 374.9,182.7 400.1,165.5 425.2,148.2 425.2,156.6 400.1,173.9 374.9,191.1 349.8,208.3 324.7,225.6" fill="#e38656" opacity="0.7"/><path d="M307.7,233.3 C312.7,233.3 316.7,226.1 323.7,226.1 C330.7,226.1 331.7,228.5 335.7,232.5 L425.2,164.5" fill="none" stroke="#3a1a0c" stroke-width="2.6"/>
<path d="M400.2,151.9 L511.1,75.4 C519.1,76.4 519.1,95.4 511.1,98.4 L429.2,161.5 C425.2,157.5 424.2,154.4 417.2,154.4 C410.2,154.4 406.2,161.9 401.2,161.9 L400.2,151.9 Z" fill="#d66a3d"/><polygon points="418.2,144.1 441.4,128.1 464.6,112.1 487.9,96.1 511.1,80.1 511.1,89.3 487.9,105.3 464.6,121.3 441.4,137.3 418.2,153.3" fill="#e38656" opacity="0.7"/><path d="M401.2,161.9 C406.2,161.9 410.2,154.4 417.2,154.4 C424.2,154.4 425.2,157.5 429.2,161.5 L511.1,98.4" fill="none" stroke="#3a1a0c" stroke-width="2.6"/>
<path d="M486.1,83.5 L590.0,15.7 C598.0,16.7 598.0,33.9 590.0,36.9 L515.1,95.3 C511.1,91.3 510.1,86.9 503.1,86.9 C496.1,86.9 492.1,94.5 487.1,94.5 L486.1,83.5 Z" fill="#d66a3d"/><polygon points="504.1,76.8 525.6,62.7 547.0,48.7 568.5,34.7 590.0,20.7 590.0,30.8 568.5,44.8 547.0,58.8 525.6,72.8 504.1,86.8" fill="#e38656" opacity="0.7"/><path d="M487.1,94.5 C492.1,94.5 496.1,86.9 503.1,86.9 C510.1,86.9 511.1,91.3 515.1,95.3 L590.0,36.9" fill="none" stroke="#3a1a0c" stroke-width="2.6"/>
<g stroke="#262626" stroke-width="1.6"><line x1="35.5" y1="37.0" x2="35.5" y2="448.0"/>
<line x1="76.4" y1="83.6" x2="76.4" y2="412.0"/>
<line x1="130.0" y1="133.8" x2="130.0" y2="451.0"/>
<line x1="171.2" y1="423.0" x2="171.2" y2="702.0"/>
<line x1="237.5" y1="445.0" x2="237.5" y2="648.5"/>
<line x1="399.7" y1="399.7" x2="399.7" y2="649.0"/>
<line x1="512.2" y1="490.3" x2="512.2" y2="647.8"/>
<line x1="671.7" y1="222.0" x2="671.7" y2="388.0"/>
<polyline points="605.3,271 605.3,457.5 494,457.5" fill="none"/>
<line x1="569" y1="535.5" x2="603" y2="535.5"/></g>
<g fill="#25282c"><circle cx="76.4" cy="412.0" r="8.5"/><circle cx="130.0" cy="451.0" r="8.5"/><circle cx="171.2" cy="424.0" r="8.5"/><circle cx="237.5" cy="445.0" r="8.5"/><circle cx="399.8" cy="399.7" r="8.5"/><circle cx="512.3" cy="490.5" r="8.5"/><circle cx="605.5" cy="271.2" r="8.5"/><circle cx="671.7" cy="222.5" r="8.5"/></g>
<g class="tx" filter="url(#tsoft)"><text x="44.6" y="57.2" textLength="148.4" lengthAdjust="spacingAndGlyphs">Dakpannen</text>
<text x="84.0" y="99.7" textLength="109.0" lengthAdjust="spacingAndGlyphs">Pannelat</text>
<text x="139.6" y="148.7" textLength="109.4" lengthAdjust="spacingAndGlyphs">Tengellat</text>
<text x="684.0" y="391.9" textLength="70.0" lengthAdjust="spacingAndGlyphs">Keper</text>
<text x="614.6" y="463.4" textLength="159.0" lengthAdjust="spacingAndGlyphs">Dampscherm</text>
<text x="611.2" y="544.0" textLength="120.8" lengthAdjust="spacingAndGlyphs">Onderdak</text>
<text x="520.8" y="647.1" textLength="98.0" lengthAdjust="spacingAndGlyphs">Gording</text>
<text x="251.0" y="648.0" textLength="129.0" lengthAdjust="spacingAndGlyphs">Dakisolatie</text>
<text x="182.4" y="700.8" textLength="119.0" lengthAdjust="spacingAndGlyphs">Onderdak</text></g>
</svg>
</body></html>
